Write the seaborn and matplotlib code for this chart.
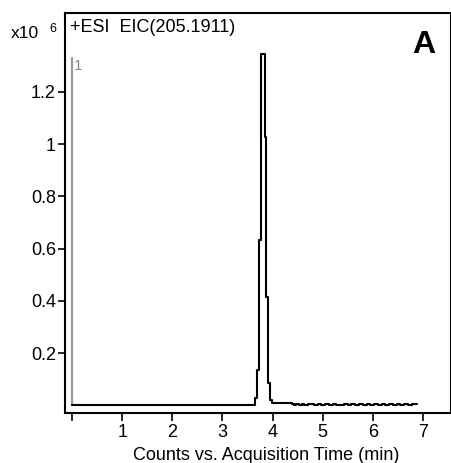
import matplotlib
matplotlib.use("Agg")
import matplotlib.pyplot as plt
import pandas as pd
import seaborn as sns

# EIC trace, intensity in units of 1e6 counts, time in min
time_min = [0.00, 3.60, 3.652, 3.692, 3.735, 3.778, 3.842, 3.866, 3.906, 3.946,
            3.986, 4.38, 4.42, 4.47, 4.52, 4.58, 4.63, 4.70, 4.76, 4.83,
            4.90, 4.97, 5.05, 5.12, 5.20, 5.27, 5.35, 5.42, 5.50, 5.57,
            5.65, 5.72, 5.80, 5.88, 5.95, 6.03, 6.10, 6.18, 6.25, 6.33,
            6.40, 6.48, 6.55, 6.62, 6.70, 6.77, 6.87]
intensity = [0.002, 0.002, 0.029, 0.136, 0.633, 1.344, 1.027, 0.415, 0.086, 0.021,
             0.011, 0.004, 0.001, 0.006, 0.002, 0.005, 0.001, 0.004, 0.006, 0.002,
             0.005, 0.001, 0.004, 0.002, 0.006, 0.003, 0.001, 0.005, 0.002, 0.004,
             0.001, 0.006, 0.002, 0.004, 0.001, 0.005, 0.003, 0.006, 0.002, 0.004,
             0.001, 0.005, 0.003, 0.006, 0.002, 0.004, 0.004]

# grey marker line of trace 1
marker_time = [0.0, 0.0]
marker_level = [0.0, 1.33]

x_ticks = [0, 1, 2, 3, 4, 5, 6, 7]
x_labels = ["", "1", "2", "3", "4", "5", "6", "7"]
y_ticks = [0.2, 0.4, 0.6, 0.8, 1.0, 1.2]
y_labels = ["0.2", "0.4", "0.6", "0.8", "1", "1.2"]


def main():
    sns.set_style("ticks")
    plt.rcParams["font.family"] = ["Liberation Sans", "DejaVu Sans"]
    plt.rcParams["text.color"] = "black"
    plt.rcParams["axes.labelcolor"] = "black"
    plt.rcParams["xtick.color"] = "black"
    plt.rcParams["ytick.color"] = "black"

    df = pd.DataFrame({"time": time_min, "counts": intensity})
    df_mark = pd.DataFrame({"time": marker_time, "counts": marker_level})

    fig = plt.figure(figsize=(4.52, 4.63), dpi=100)
    ax = fig.add_axes([65 / 452, 1 - 413 / 463, 386 / 452, 400 / 463])

    sns.lineplot(data=df_mark, x="time", y="counts", color="#9a9a9a",
                 linewidth=1.6, ax=ax, estimator=None, sort=False)
    sns.lineplot(data=df, x="time", y="counts", color="black", linewidth=1.5,
                 drawstyle="steps-post", ax=ax, estimator=None, sort=False)

    ax.set_xlim(-0.14, 7.557)
    ax.set_ylim(-0.0287, 1.501)
    ax.set_xticks(x_ticks)
    ax.set_xticklabels(x_labels)
    ax.set_yticks(y_ticks)
    ax.set_yticklabels(y_labels)

    ax.tick_params(axis="y", direction="out", length=5, width=1.2,
                   labelsize=13, pad=1.5, color="black", labelcolor="black")
    ax.tick_params(axis="x", direction="out", length=6, width=1.2,
                   labelsize=13, pad=2, color="black", labelcolor="black")
    for s in ax.spines.values():
        s.set_visible(True)
        s.set_linewidth(1.5)
        s.set_color("black")

    ax.set_xlabel("Counts vs. Acquisition Time (min)", fontsize=13, labelpad=1)
    ax.xaxis.set_label_coords(0.52, -0.085)
    ax.set_ylabel("")

    ax.text(0.012, 0.965, "+ESI  EIC(205.1911)", transform=ax.transAxes,
            fontsize=13, ha="left", va="center")
    ax.text(0.93, 0.92, "A", transform=ax.transAxes, fontsize=23,
            fontweight="bold", ha="center", va="center")
    ax.text(0.03, 1.30, "1", fontsize=11, color="#888888", ha="left",
            va="center")
    fig.text(11 / 452, 1 - 34 / 463, "x10", fontsize=12.5, ha="left",
             va="center")
    fig.text(49 / 452, 1 - 29 / 463, "6", fontsize=9, ha="left",
             va="center")

    fig.savefig("out.png", dpi=100)


if __name__ == "__main__":
    main()
